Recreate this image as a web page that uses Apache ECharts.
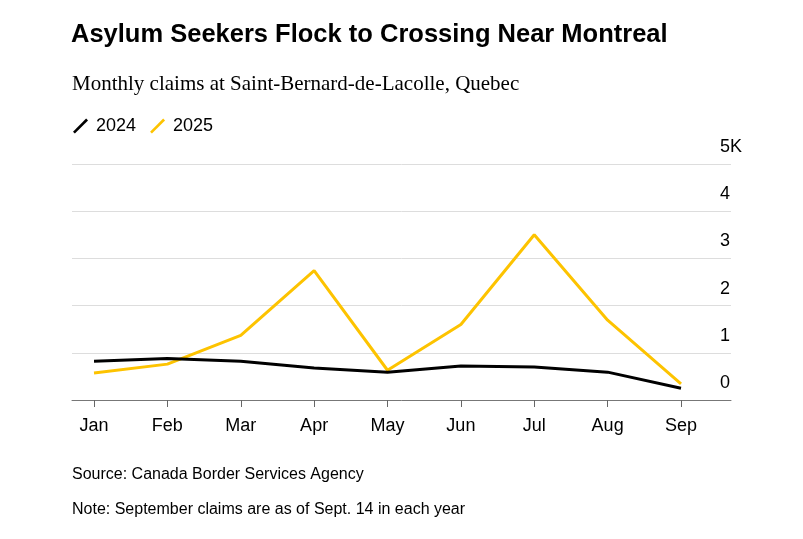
<!DOCTYPE html>
<html>
<head>
<meta charset="utf-8">
<script src="https://cdn.jsdelivr.net/npm/echarts@6/dist/echarts.min.js"></script>
<style>
  html, body { margin: 0; padding: 0; background: #fff; }
  #chart { width: 803px; height: 539px; }
</style>
</head>
<body>
<div id="chart"></div>
<script>
const months = ['Jan', 'Feb', 'Mar', 'Apr', 'May', 'Jun', 'Jul', 'Aug', 'Sep']
// monthly claims
const claims2024 = [820, 880, 820, 680, 590, 720, 700, 590, 250]
const claims2025 = [570, 760, 1370, 2740, 630, 1600, 3500, 1690, 340]
const yTickLabels = ['0', '1', '2', '3', '4', '5K']

const font = '"Liberation Sans", Arial, sans-serif'
const slash = 'path://M0,14 L2,16 L16,2 L14,0 Z'

const chart = echarts.init(document.getElementById('chart'))

const option = {
  animation: false,
  backgroundColor: '#fff',
  title: [
    {
      text: 'Asylum Seekers Flock to Crossing Near Montreal',
      left: 66, top: 17,
      textStyle: { fontFamily: font, fontWeight: 'bold', fontSize: 25.5, color: '#000' }
    },
    {
      text: 'Monthly claims at Saint-Bernard-de-Lacolle, Quebec',
      left: 67, top: 69,
      textStyle: { fontFamily: '"Liberation Serif", "Times New Roman", serif', fontWeight: 'normal', fontSize: 21, color: '#000' }
    },
    {
      text: 'Source: Canada Border Services Agency',
      left: 67, top: 462,
      textStyle: { fontFamily: font, fontWeight: 'normal', fontSize: 16, color: '#000' }
    },
    {
      text: 'Note: September claims are as of Sept. 14 in each year',
      left: 67, top: 497,
      textStyle: { fontFamily: font, fontWeight: 'normal', fontSize: 16, color: '#000' }
    }
  ],
  legend: {
    left: 68, top: 112,
    itemWidth: 15, itemHeight: 15, itemGap: 14,
    textStyle: { fontFamily: font, fontSize: 18, color: '#000', padding: [0, 0, 0, 3] },
    data: [
      { name: '2024', icon: slash, itemStyle: { color: '#000' } },
      { name: '2025', icon: slash, itemStyle: { color: '#fdc300' } }
    ]
  },
  grid: [
    { left: 94, right: 122, top: 164, bottom: 139 },
    { left: 72, right: 72, top: 164, bottom: 139 }
  ],
  xAxis: [
    {
      type: 'category', gridIndex: 0, data: months, boundaryGap: false,
      axisLine: { show: false },
      axisTick: { show: true, length: 7, lineStyle: { color: '#666' } },
      axisLabel: { fontFamily: font, fontSize: 18, color: '#000', margin: 17 },
      splitLine: { show: false }
    },
    {
      type: 'value', gridIndex: 1, min: 0, max: 1,
      axisLine: { show: true, lineStyle: { color: '#777', width: 1 } },
      axisTick: { show: false }, axisLabel: { show: false }, splitLine: { show: false }
    }
  ],
  yAxis: [
    { type: 'value', gridIndex: 0, min: 0, max: 5000, show: false },
    {
      type: 'value', gridIndex: 1, position: 'right', min: 0, max: 5000, interval: 1000,
      axisLine: { show: false }, axisTick: { show: false },
      splitLine: { lineStyle: { color: '#ddd', width: 1 } },
      axisLabel: {
        fontFamily: font, fontSize: 18, color: '#000',
        align: 'left', margin: -11, verticalAlign: 'bottom', padding: [0, 0, 8, 0],
        formatter: (v) => yTickLabels[Math.round(v / 1000)]
      }
    }
  ],
  series: [
    {
      name: '2024', type: 'line', xAxisIndex: 0, yAxisIndex: 0, data: claims2024,
      symbol: 'none', lineStyle: { color: '#000', width: 3 }, itemStyle: { color: '#000' }, z: 3
    },
    {
      name: '2025', type: 'line', xAxisIndex: 0, yAxisIndex: 0, data: claims2025,
      symbol: 'none', lineStyle: { color: '#fdc300', width: 3 }, itemStyle: { color: '#fdc300' }, z: 2
    }
  ]
}

chart.setOption(option)
</script>
</body>
</html>
